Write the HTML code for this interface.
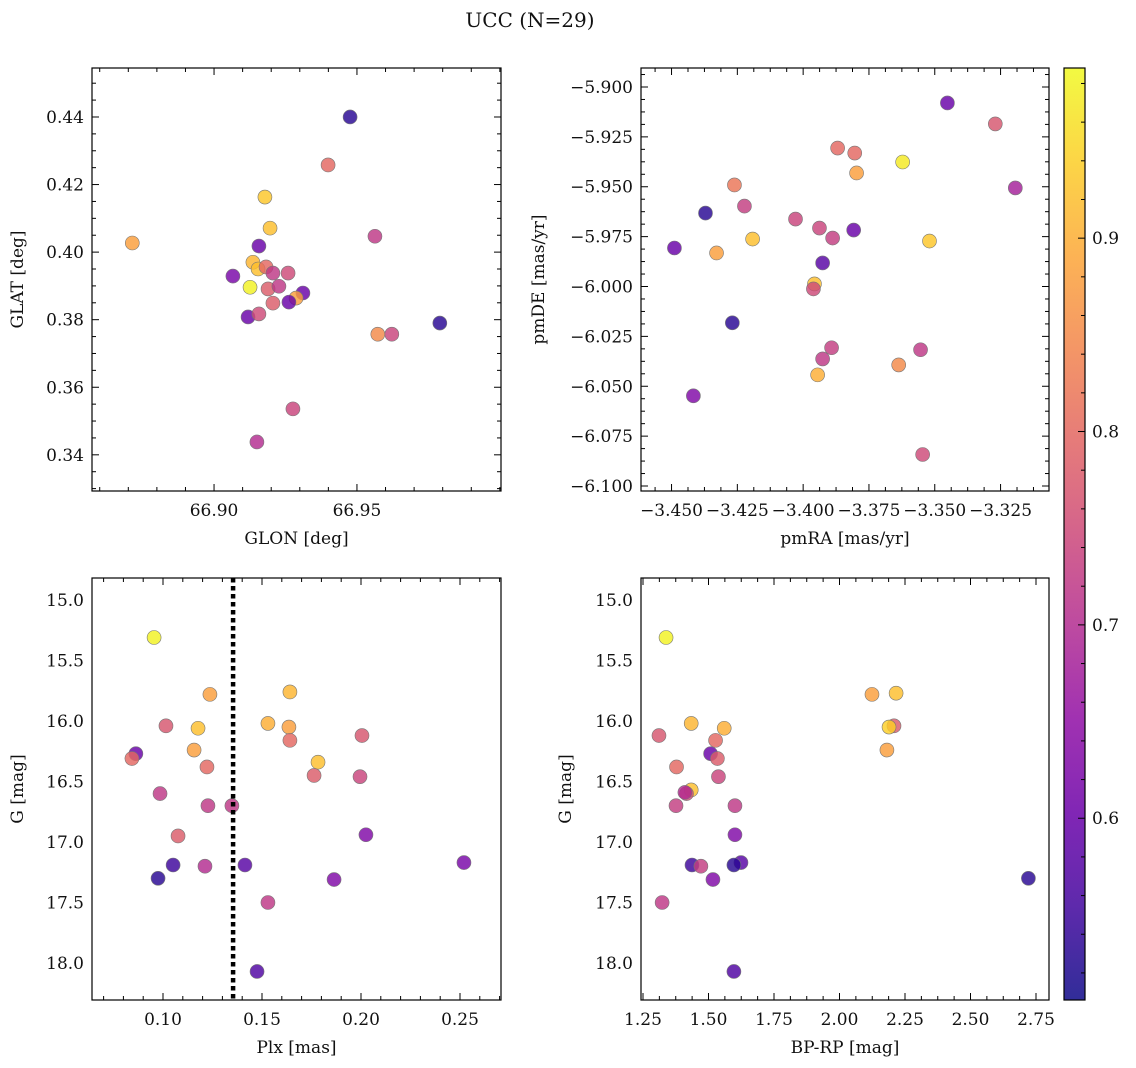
<!DOCTYPE html>
<html><head><meta charset="utf-8"><title>UCC (N=29)</title>
<style>html,body{margin:0;padding:0;background:#fff}svg{display:block}text{font-family:"DejaVu Serif","Liberation Serif",serif;fill:#111}</style>
</head><body>
<svg id="fig" width="1136" height="1068" xmlns="http://www.w3.org/2000/svg">
<defs><linearGradient id="cmap" x1="0" y1="1" x2="0" y2="0"></linearGradient></defs>
<text x="530" y="27" font-size="20" text-anchor="middle">UCC (N=29)</text>
</svg>
<script>
// ---- data ----
const cvals1=[0.53,0.8,0.88,0.93,0.92,0.6,0.62,0.91,0.92,0.8,0.72,0.75,0.98,0.78,0.72,0.78,0.6,0.88,0.6,0.6,0.75,0.72,0.85,0.74,0.53,0.74,0.7];
const glon=[66.9476,66.9399,66.8714,66.9178,66.9196,66.9157,66.9066,66.9136,66.9154,66.9182,66.9206,66.9259,66.9126,66.9189,66.9227,66.9206,66.9311,66.9287,66.9262,66.9119,66.9157,66.9563,66.9573,66.9622,66.9790,66.9276,66.9150];
const glat=[0.4400,0.4258,0.4027,0.4163,0.4071,0.4018,0.3929,0.3970,0.3950,0.3956,0.3938,0.3938,0.3896,0.3891,0.3899,0.3849,0.3879,0.3864,0.3852,0.3808,0.3817,0.4047,0.3757,0.3757,0.3790,0.3536,0.3438];
const cvals2=[0.6,0.77,0.8,0.8,0.97,0.88,0.82,0.68,0.73,0.53,0.74,0.74,0.6,0.73,0.92,0.93,0.6,0.88,0.58,0.92,0.75,0.53,0.73,0.72,0.72,0.85,0.9,0.63,0.75];
const pmra=[-3.3452,-3.3270,-3.3869,-3.3804,-3.3622,-3.3797,-3.4261,-3.3194,-3.4223,-3.4371,-3.4029,-3.3938,-3.3808,-3.3888,-3.4192,-3.3520,-3.4489,-3.4329,-3.3926,-3.3957,-3.3961,-3.4269,-3.3892,-3.3926,-3.3554,-3.3637,-3.3945,-3.4417,-3.3546];
const pmde=[-5.9080,-5.9185,-5.9306,-5.9331,-5.9376,-5.9431,-5.9491,-5.9506,-5.9597,-5.9632,-5.9662,-5.9707,-5.9717,-5.9757,-5.9762,-5.9772,-5.9807,-5.9832,-5.9882,-5.9987,-6.0012,-6.0182,-6.0307,-6.0363,-6.0317,-6.0393,-6.0443,-6.0548,-6.0842];
const cvals3=[0.98,0.88,0.91,0.77,0.92,0.9,0.88,0.8,0.77,0.6,0.8,0.88,0.8,0.92,0.74,0.78,0.72,0.72,0.72,0.78,0.63,0.53,0.55,0.7,0.58,0.62,0.63,0.72,0.57];
const plx=[0.0955,0.1237,0.1641,0.1015,0.1177,0.1530,0.1636,0.1641,0.2005,0.0863,0.0843,0.1157,0.1222,0.1783,0.1995,0.1763,0.0985,0.1227,0.1348,0.1076,0.2025,0.0975,0.1051,0.1212,0.1414,0.2520,0.1864,0.1530,0.1475];
const g3=[15.31,15.78,15.76,16.04,16.06,16.02,16.05,16.16,16.12,16.27,16.31,16.24,16.38,16.34,16.46,16.45,16.60,16.70,16.70,16.95,16.94,17.30,17.19,17.20,17.19,17.17,17.31,17.50,18.07];
const cvals4=[0.98,0.88,0.92,0.91,0.9,0.78,0.94,0.77,0.8,0.6,0.78,0.88,0.8,0.74,0.92,0.75,0.7,0.73,0.72,0.63,0.55,0.73,0.58,0.53,0.63,0.53,0.72,0.57];
const bprp=[1.338,2.124,2.216,1.434,1.560,2.208,2.189,1.311,1.527,1.508,1.534,2.181,1.378,1.538,1.434,1.416,1.410,1.376,1.601,1.601,1.437,1.471,1.624,1.597,1.517,2.721,1.323,1.597];
const g4=[15.31,15.78,15.77,16.02,16.06,16.04,16.05,16.12,16.16,16.27,16.31,16.24,16.38,16.46,16.57,16.60,16.59,16.70,16.70,16.94,17.19,17.20,17.17,17.19,17.31,17.30,17.50,18.07];
const plxLine=0.1354;
const cbTicks=[0.6,0.7,0.8,0.9];
const VMIN=0.506, VMAX=0.988;

const NS="http://www.w3.org/2000/svg";
const svg=document.getElementById('fig');
const FS=17;
function el(tag,attrs,parent){const e=document.createElementNS(NS,tag);for(const k in attrs)e.setAttribute(k,attrs[k]);(parent||svg).appendChild(e);return e;}
const stops=[[0,"#0d0887"],[0.1,"#41049d"],[0.2,"#6a00a8"],[0.3,"#8f0da4"],[0.4,"#b12a90"],[0.5,"#cc4778"],[0.6,"#e16462"],[0.7,"#f2844b"],[0.8,"#fca636"],[0.9,"#fcce25"],[1,"#f0f921"]];
function hex(h){return [1,3,5].map(i=>parseInt(h.substr(i,2),16));}
function plasma(v){let t=Math.max(0,Math.min(1,(v-VMIN)/(VMAX-VMIN)));for(let i=1;i<stops.length;i++){if(t<=stops[i][0]){const a=hex(stops[i-1][1]),b=hex(stops[i][1]);const f=(t-stops[i-1][0])/(stops[i][0]-stops[i-1][0]);return `rgb(${a.map((x,j)=>Math.round(x+(b[j]-x)*f)).join(',')})`;}}return stops[10][1];}
function lin(d0,d1,p0,p1){return v=>p0+(v-d0)/(d1-d0)*(p1-p0);}

function panel(name,box,xa,ya,xlabel,ylabel,xs,ys,cs){
  const g=el('g',{});
  
  
  const [L,T,R,B]=box;
  const sx=lin(xa.d0,xa.d1,L,R), sy=lin(ya.d0,ya.d1,B,T);
  for(let i=0;i<xs.length;i++){
    const c=el('circle',{cx:sx(xs[i]),cy:sy(ys[i]),r:7,fill:plasma(cs[i]),'fill-opacity':0.82,stroke:'#777','stroke-width':0.6},g);
    
    
  }
  function ticksFor(ax){const out=[];const n0=Math.ceil(ax.d0/ax.minor-1e-6),n1=Math.floor(ax.d1/ax.minor+1e-6);for(let n=n0;n<=n1;n++){const v=n*ax.minor;const isMaj=ax.major.some(m=>Math.abs(m-v)<ax.minor/10);out.push([v,isMaj]);}return out;}
  ticksFor(xa).forEach(([v,m])=>{const x=sx(v),l=m?7:4;el('line',{x1:x,x2:x,y1:B,y2:B-l,stroke:'#000','stroke-width':1},g);el('line',{x1:x,x2:x,y1:T,y2:T+l,stroke:'#000','stroke-width':1},g);});
  ticksFor(ya).forEach(([v,m])=>{const y=sy(v),l=m?7:4;el('line',{y1:y,y2:y,x1:L,x2:L+l,stroke:'#000','stroke-width':1},g);el('line',{y1:y,y2:y,x1:R,x2:R-l,stroke:'#000','stroke-width':1},g);});
  xa.major.forEach(v=>{const t=el('text',{x:sx(v),y:B+25,'font-size':FS,'text-anchor':'middle'},g);t.textContent=xa.fmt(v);});
  ya.major.forEach(v=>{const t=el('text',{x:L-8,y:sy(v)+6,'font-size':FS,'text-anchor':'end'},g);t.textContent=ya.fmt(v);});
  const xt=el('text',{x:(L+R)/2,y:B+53,'font-size':FS,'text-anchor':'middle'},g);xt.textContent=xlabel;
  
  const yt=el('text',{x:0,y:0,'font-size':FS,'text-anchor':'middle',transform:`translate(${ya.lx},${(T+B)/2}) rotate(-90)`},g);yt.textContent=ylabel;
  
  el('rect',{x:L,y:T,width:R-L,height:B-T,fill:'none',stroke:'#000','stroke-width':1.2},g);
  return {sx,sy,g,T,B};
}
const f2=v=>v.toFixed(2), f3=v=>v.toFixed(3).replace('-','\u2212'), f1=v=>v.toFixed(1);
panel('panel-glon-glat',[92,68,501,491],
 {d0:66.8573,d1:67.0004,major:[66.90,66.95],minor:0.01,fmt:f2},
 {d0:0.32929,d1:0.45450,major:[0.34,0.36,0.38,0.40,0.42,0.44],minor:0.005,fmt:f2,lx:23},
 'GLON [deg]','GLAT [deg]',glon,glat,cvals1);
panel('panel-pm',[641,68,1049,491],
 {d0:-3.4616,d1:-3.3066,major:[-3.450,-3.425,-3.400,-3.375,-3.350,-3.325],minor:0.00625,fmt:f3},
 {d0:-6.10250,d1:-5.89048,major:[-5.900,-5.925,-5.950,-5.975,-6.000,-6.025,-6.050,-6.075,-6.100],minor:0.00625,fmt:f3,lx:544},
 'pmRA [mas/yr]','pmDE [mas/yr]',pmra,pmde,cvals2);
const p3=panel('panel-plx-g',[92,578,501,1000],
 {d0:0.06414,d1:0.27071,major:[0.10,0.15,0.20,0.25],minor:0.01,fmt:f2},
 {d0:18.3057,d1:14.8182,major:[15.0,15.5,16.0,16.5,17.0,17.5,18.0],minor:0.1,fmt:f1,lx:23},
 'Plx [mas]','G [mag]',plx,g3,cvals3);
const dl=el('line',{x1:p3.sx(plxLine),x2:p3.sx(plxLine),y1:578,y2:1000,stroke:'#000','stroke-width':4.5,'stroke-dasharray':'4.5,3.5'},p3.g);


panel('panel-bprp-g',[641,578,1049,1000],
 {d0:1.2424,d1:2.7996,major:[1.25,1.50,1.75,2.00,2.25,2.50,2.75],minor:0.0625,fmt:f2},
 {d0:18.3057,d1:14.8182,major:[15.0,15.5,16.0,16.5,17.0,17.5,18.0],minor:0.1,fmt:f1,lx:571},
 'BP-RP [mag]','G [mag]',bprp,g4,cvals4);
// colorbar
const grad=document.getElementById('cmap');
for(let i=0;i<=20;i++){const v=VMIN+(VMAX-VMIN)*i/20;el('stop',{offset:(i/20),'stop-color':plasma(v),'stop-opacity':0.85},grad);}
const cb=el('g',{});


el('rect',{x:1064,y:68,width:21,height:932,fill:'url(#cmap)',stroke:'#000','stroke-width':1.2},cb);
const cy=lin(VMIN,VMAX,1000,68);
for(let n=Math.ceil(VMIN/0.02);n<=Math.floor(VMAX/0.02);n++){const v=n*0.02;const maj=cbTicks.some(t=>Math.abs(t-v)<0.001);el('line',{x1:1085,x2:1085-(maj?7:4),y1:cy(v),y2:cy(v),stroke:'#000','stroke-width':1},cb);}
cbTicks.forEach(v=>{const t=el('text',{x:1092,y:cy(v)+6,'font-size':FS},cb);t.textContent=v.toFixed(1);});
</script>
</body></html>
